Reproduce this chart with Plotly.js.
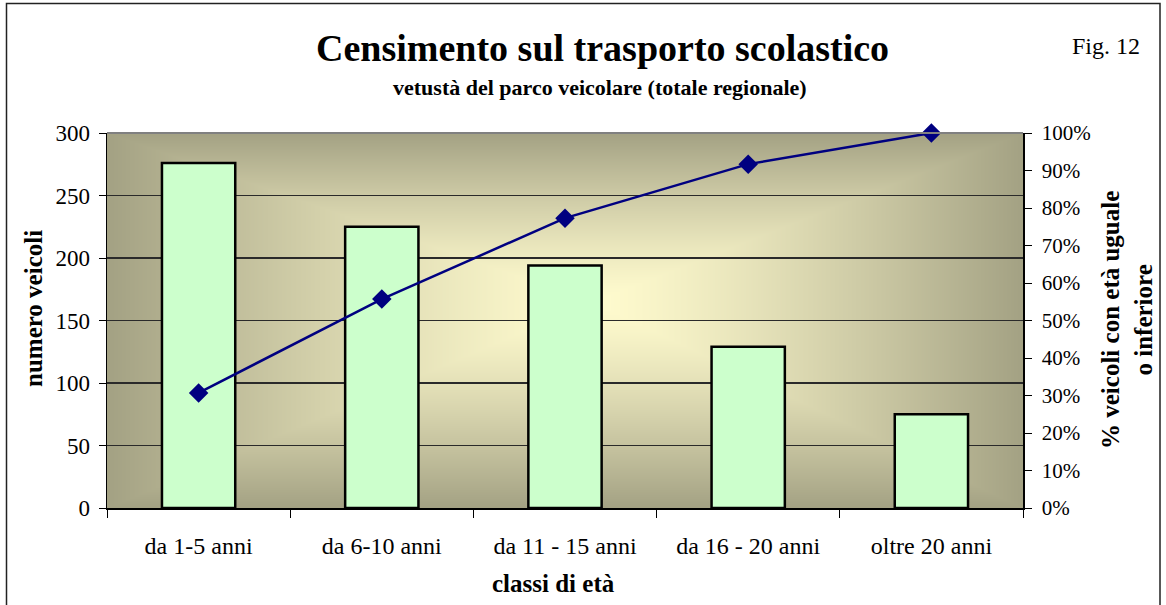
<!DOCTYPE html>
<html>
<head>
<meta charset="utf-8">
<script src="https://cdn.plot.ly/plotly-3.0.1.min.js"></script>
<style>
html,body{margin:0;padding:0;background:#fff;}
#chart{width:1166px;height:605px;}
</style>
</head>
<body>
<div id="chart"></div>
<script>
// ---- data ----
const categories = ["da 1-5 anni", "da 6-10 anni", "da 11 - 15 anni", "da 16 - 20 anni", "oltre 20 anni"];
const numeroVeicoli = [276, 225, 194, 129, 75];
const percentCumulata = [0.307, 0.557, 0.773, 0.917, 1.0];
const titleText = "Censimento sul trasporto scolastico";
const subtitleText = "vetustà del parco veicolare (totale regionale)";
const figText = "Fig. 12";
const yTitle = "numero veicoli";
const y2Title = "% veicoli con età uguale<br>o inferiore";
const xTitle = "classi di età";

// ---- background gradient (rectangular "from centre" fill) ----
function makeGradient(w, h) {
  const c = document.createElement('canvas');
  c.width = w; c.height = h;
  const ctx = c.getContext('2d');
  const img = ctx.createImageData(w, h);
  const cIn = [255, 251, 206], cOut = [163, 161, 131];
  const cx = w * 0.53, cy = h * 0.45;
  for (let y = 0; y < h; y++) {
    for (let x = 0; x < w; x++) {
      const tx = Math.abs(x - cx) / (x < cx ? cx : (w - cx));
      const ty = Math.abs(y - cy) / (y < cy ? cy : (h - cy));
      let t = Math.min(1, Math.max(tx, ty));
      t = Math.pow(t, 1.3);
      const i = (y * w + x) * 4;
      img.data[i] = cIn[0] + (cOut[0] - cIn[0]) * t;
      img.data[i + 1] = cIn[1] + (cOut[1] - cIn[1]) * t;
      img.data[i + 2] = cIn[2] + (cOut[2] - cIn[2]) * t;
      img.data[i + 3] = 255;
    }
  }
  ctx.putImageData(img, 0, 0);
  return c.toDataURL('image/png');
}

const W = 1166, H = 605;
const M = {l: 107, r: 143, t: 133, b: 97};
const PW = W - M.l - M.r, PH = H - M.t - M.b;
const px = v => (v - M.l) / PW;
const py = v => (H - M.b - v) / PH;

const FONT = "'Liberation Serif', 'Times New Roman', Times, serif";

const traces = [
  {
    type: 'bar', x: categories, y: numeroVeicoli, yaxis: 'y',
    width: 0.4,
    marker: {color: '#ccffcc', line: {color: '#000000', width: 2.5}},
    hoverinfo: 'x+y'
  },
  {
    type: 'scatter', mode: 'lines+markers', x: categories, y: percentCumulata, yaxis: 'y2',
    line: {color: '#000080', width: 2.5},
    marker: {symbol: 'diamond', size: 15, color: '#000080'},
    cliponaxis: false
  }
];

const n = categories.length;
const boundaries = [];
for (let i = 0; i <= n; i++) boundaries.push(i - 0.5);

const layout = {
  width: W, height: H,
  margin: M,
  paper_bgcolor: '#ffffff',
  plot_bgcolor: 'rgba(0,0,0,0)',
  showlegend: false,
  font: {family: FONT, color: '#000', size: 22},
  xaxis: {
    type: 'category', range: [-0.5, n - 0.5],
    tickson: 'boundaries', ticks: 'outside', ticklen: 8, tickcolor: '#000', tickwidth: 1,
    showline: true, linecolor: '#000', linewidth: 1.5,
    showgrid: false, zeroline: false,
    tickfont: {family: FONT, size: 24, color: '#000'},
    ticklabelstandoff: 16
  },
  xaxis2: {
    overlaying: 'x', anchor: 'y', range: [-0.5, n - 0.5],
    tickmode: 'array', tickvals: boundaries, ticks: 'inside', ticklen: 8,
    tickcolor: '#000', tickwidth: 1,
    showticklabels: false, showgrid: false, zeroline: false, showline: false
  },
  yaxis: {
    range: [0, 300], dtick: 50, tick0: 0,
    ticks: 'outside', ticklen: 7, tickcolor: '#000', tickwidth: 1,
    showline: true, linecolor: '#000', linewidth: 1.5,
    showgrid: true, gridcolor: '#2a2a2a', gridwidth: 1.2,
    zeroline: false,
    tickfont: {family: FONT, size: 23, color: '#000'},
    ticklabelstandoff: 4
  },
  yaxis2: {
    overlaying: 'y', side: 'right', anchor: 'x',
    range: [0, 1], dtick: 0.1, tick0: 0, tickformat: '.0%',
    ticks: 'outside', ticklen: 7, tickcolor: '#000', tickwidth: 1,
    showline: true, linecolor: '#000', linewidth: 1.5,
    showgrid: false, zeroline: false,
    tickfont: {family: FONT, size: 21, color: '#000'},
    ticklabelstandoff: 6
  },
  yaxis3: {
    overlaying: 'y', side: 'right', anchor: 'x',
    range: [0, 1], dtick: 0.1, tick0: 0,
    ticks: 'inside', ticklen: 7, tickcolor: '#000', tickwidth: 1,
    showticklabels: false, showgrid: false, zeroline: false, showline: false
  },
  images: [{
    source: makeGradient(PW, PH),
    xref: 'paper', yref: 'paper', x: 0, y: 1, sizex: 1, sizey: 1,
    xanchor: 'left', yanchor: 'top', sizing: 'stretch', layer: 'below'
  }],
  shapes: [
    {type: 'line', xref: 'paper', yref: 'paper', x0: 0, x1: 1, y0: 1, y1: 1,
     line: {color: '#808080', width: 2}},
    {type: 'rect', xref: 'paper', yref: 'paper',
     x0: px(6.5), x1: px(1160), y0: py(3.5), y1: py(610),
     line: {color: '#222', width: 1.5}, fillcolor: 'rgba(0,0,0,0)'}
  ],
  annotations: [
    {text: '<b>' + titleText + '</b>', xref: 'paper', yref: 'paper',
     x: px(602), y: py(48), xanchor: 'center', yanchor: 'middle', showarrow: false,
     font: {family: FONT, size: 38, color: '#000'}},
    {text: '<b>' + subtitleText + '</b>', xref: 'paper', yref: 'paper',
     x: px(600), y: py(88), xanchor: 'center', yanchor: 'middle', showarrow: false,
     font: {family: FONT, size: 22, color: '#000'}},
    {text: figText, xref: 'paper', yref: 'paper',
     x: px(1106), y: py(46), xanchor: 'center', yanchor: 'middle', showarrow: false,
     font: {family: FONT, size: 24, color: '#000'}},
    {text: '<b>' + yTitle + '</b>', xref: 'paper', yref: 'paper',
     x: px(33), y: py(309), xanchor: 'center', yanchor: 'middle', showarrow: false,
     textangle: -90, font: {family: FONT, size: 25, color: '#000'}},
    {text: '<b>' + y2Title + '</b>', xref: 'paper', yref: 'paper',
     x: px(1127), y: py(320), xanchor: 'center', yanchor: 'middle', showarrow: false,
     textangle: -90, font: {family: FONT, size: 25, color: '#000'}},
    {text: '<b>' + xTitle + '</b>', xref: 'paper', yref: 'paper',
     x: px(553), y: py(583), xanchor: 'center', yanchor: 'middle', showarrow: false,
     font: {family: FONT, size: 25, color: '#000'}}
  ]
};

Plotly.newPlot('chart', traces, layout, {displayModeBar: false, staticPlot: true});
</script>
</body>
</html>
